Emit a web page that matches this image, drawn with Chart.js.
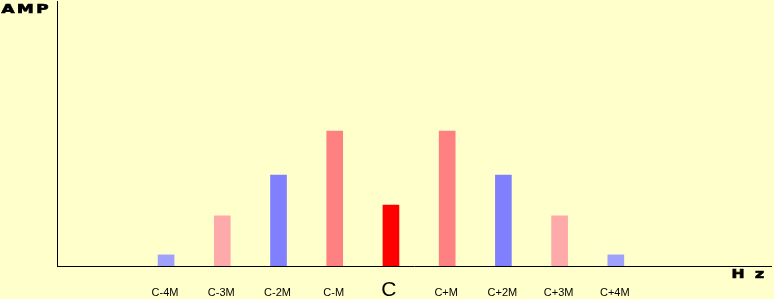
<!DOCTYPE html>
<html>
<head>
<meta charset="utf-8">
<script src="https://cdn.jsdelivr.net/npm/chart.js@4/dist/chart.umd.min.js"></script>
<style>
html,body{margin:0;padding:0;background:#FFFFCC;}
#wrap{width:774px;height:299px;position:relative;}
</style>
</head>
<body>
<div id="wrap"><canvas id="c" width="774" height="299"></canvas></div>
<script>
// Sideband labels, their offsets from the carrier (in multiples of M) and amplitudes (% of axis height)
const labels = ['C-4M','C-3M','C-2M','C-M','C','C+M','C+2M','C+3M','C+4M'];
const offsets = [-4,-3,-2,-1,0,1,2,3,4];
const amplitudes = [4.2, 18.9, 34.3, 50.9, 23.0, 50.9, 34.3, 18.9, 4.2];
const colors = ['#A0A0FF','#FFAAAA','#8080FF','#FF8080','#FF0000','#FF8080','#8080FF','#FFAAAA','#A0A0FF'];
const xRange = [-5.94, 6.76];
const yRange = [0, 100];
const yTitle = 'AMP';
const xTitle = 'Hz';

function drawStretched(ctx, text, x, y, font, sx, spacing) {
  ctx.save();
  ctx.font = font;
  ctx.fillStyle = '#000';
  ctx.strokeStyle = '#000';
  ctx.lineWidth = 0.7;
  ctx.textBaseline = 'alphabetic';
  ctx.textAlign = 'left';
  let cx = x;
  for (const ch of text) {
    const w = ctx.measureText(ch).width;
    ctx.save();
    ctx.setTransform(sx, 0, 0, 1, cx, y);
    ctx.fillText(ch, 0, 0);
    ctx.strokeText(ch, 0, 0);
    ctx.restore();
    cx += w * sx + spacing;
  }
  ctx.restore();
}

const titleFont = 'bold 12px "DejaVu Sans", sans-serif';

const labelPlugin = {
  id: 'labelPlugin',
  afterDraw(chart) {
    const ctx = chart.ctx;
    const xs = chart.scales.x;
    const area = chart.chartArea;
    ctx.save();
    ctx.fillStyle = '#000';
    ctx.textAlign = 'center';
    ctx.textBaseline = 'alphabetic';
    labels.forEach((lab, i) => {
      const px = xs.getPixelForValue(offsets[i]);
      if (offsets[i] === 0) {
        ctx.font = '21px "Liberation Sans", Arial, sans-serif';
        ctx.fillText(lab, px - 2, area.bottom + 30);
      } else {
        ctx.font = '11px "Liberation Sans", Arial, sans-serif';
        ctx.fillText(lab, px - 1, area.bottom + 30);
      }
    });
    ctx.restore();
    drawStretched(ctx, yTitle, 1.5, 12.5, titleFont, 1.4, 2.5);
    drawStretched(ctx, xTitle[0], 731.5, 277.5, titleFont, 1.3, 0);
    drawStretched(ctx, xTitle[1], 755, 277.5, titleFont, 1.3, 0);
  }
};

new Chart(document.getElementById('c'), {
  type: 'bar',
  data: {
    datasets: [{
      data: offsets.map((o, i) => ({x: o, y: amplitudes[i]})),
      backgroundColor: colors,
      borderWidth: 0,
      barThickness: 16
    }]
  },
  options: {
    responsive: false,
    animation: false,
    events: [],
    layout: { padding: { left: 57, top: 1, right: 3, bottom: 33 } },
    plugins: { legend: { display: false }, tooltip: { enabled: false } },
    scales: {
      x: {
        type: 'linear',
        offset: false,
        min: xRange[0], max: xRange[1],
        grid: { display: false, drawTicks: false, offset: false },
        ticks: { display: false },
        border: { display: true, color: '#000', width: 1 }
      },
      y: {
        min: yRange[0], max: yRange[1],
        grid: { display: false, drawTicks: false },
        ticks: { display: false },
        border: { display: true, color: '#000', width: 1 }
      }
    }
  },
  plugins: [labelPlugin]
});
</script>
</body>
</html>
